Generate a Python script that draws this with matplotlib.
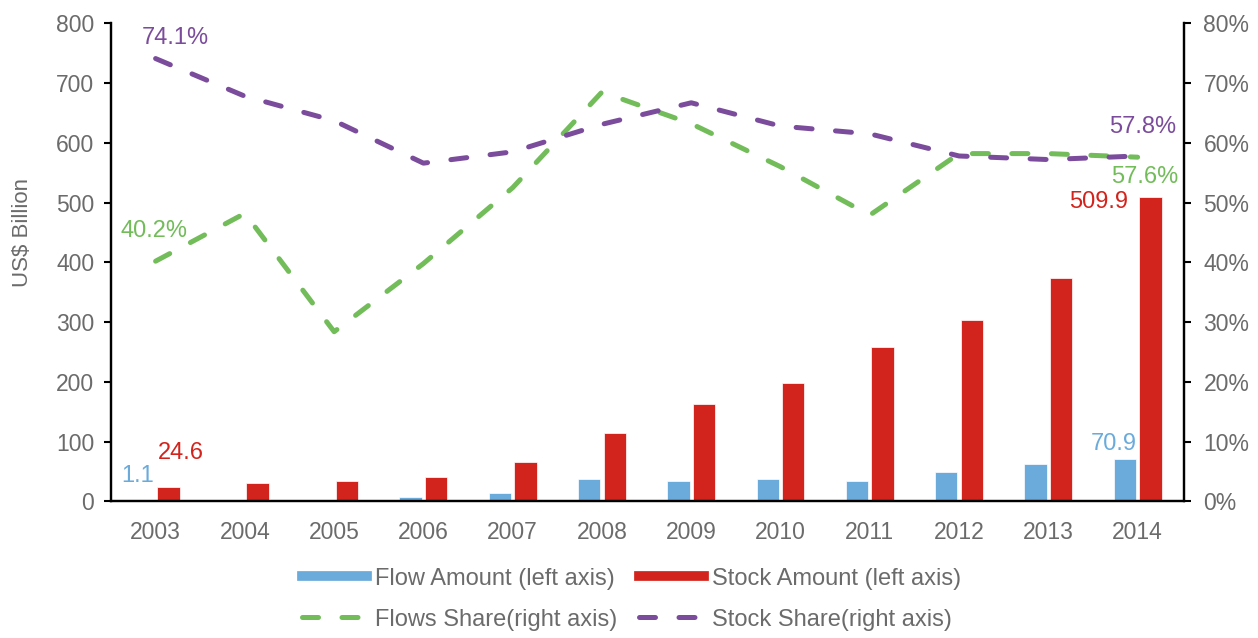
import numpy as np
import matplotlib.pyplot as plt
from matplotlib.lines import Line2D

plt.rcParams['font.family'] = ['Liberation Sans', 'DejaVu Sans']

# data
years = ['2003', '2004', '2005', '2006', '2007', '2008',
         '2009', '2010', '2011', '2012', '2013', '2014']
flow_amount = [1.1, 0.1, 0.1, 7, 13.7, 37, 34.8, 37, 34.8, 50, 62.8, 70.9]
stock_amount = [24.6, 30.5, 34.3, 41, 66.6, 114, 163, 198, 259, 304, 374.5, 509.9]
flows_share = [40.2, 48.2, 28.4, 39.8, 52.5, 68.5, 63.2, 56.0, 47.9, 58.2, 58.2, 57.6]
stock_share = [74.1, 67.8, 63.7, 56.6, 58.5, 63.1, 66.7, 62.8, 61.5, 57.8, 57.2, 57.8]

c_flow = '#6AABDC'
c_stock = '#D2241C'
c_fshare = '#72BC5A'
c_sshare = '#7B4C9C'
c_text = '#6B6B6B'

fig = plt.figure(figsize=(12.58, 6.38), dpi=100)
ax = fig.add_axes([0.0882, 0.214, 0.853, 0.7495])
ax2 = ax.twinx()

x = np.arange(len(years))
w = 0.25
off = 0.143
ax.bar(x - off, flow_amount, w, color=c_flow, edgecolor='white', linewidth=0.5, zorder=2)
ax.bar(x + off, stock_amount, w, color=c_stock, edgecolor='white', linewidth=0.5, zorder=2)

lw = 3.6
dash = (3.2, 4.7)
ax2.plot(x, flows_share, color=c_fshare, lw=lw, dashes=dash, dash_capstyle='round')
ax2.plot(x, stock_share, color=c_sshare, lw=lw, dashes=dash, dash_capstyle='round')

ax.set_xlim(-0.5, 11.52)
ax.set_ylim(0, 800)
ax2.set_ylim(0, 80)
ax.set_yticks(range(0, 801, 100))
ax2.set_yticks(range(0, 81, 10))
ax2.set_yticklabels([f'{v}%' for v in range(0, 81, 10)])
ax.set_xticks(x)
ax.set_xticklabels(years)

for a in (ax, ax2):
    a.spines['top'].set_visible(False)
    for s in ('left', 'right', 'bottom'):
        a.spines[s].set_linewidth(1.6)
        a.spines[s].set_color('black')
    a.tick_params(axis='x', length=0, labelsize=16.5, labelcolor=c_text, pad=14)
ax.tick_params(axis='y', length=5, width=1.5, labelsize=16.5, labelcolor=c_text, pad=7)
ax2.tick_params(axis='y', length=5, width=1.5, labelsize=16.5, labelcolor=c_text, pad=9)

fig.text(0.0175, 0.636, 'US$ Billion', rotation=90, ha='center', va='center',
         fontsize=16, color=c_text)

fs = 17
def lab(a, xi, yi, s, c, dx, dy):
    a.annotate(s, (xi, yi), xytext=(dx, dy), textcoords='offset points',
               ha='center', va='center', fontsize=fs, color=c)

lab(ax2, 0, stock_share[0], f'{stock_share[0]}%', c_sshare, 14, 15)
lab(ax2, 0, flows_share[0], f'{flows_share[0]}%', c_fshare, -1, 22)
lab(ax2, 11, stock_share[-1], f'{stock_share[-1]}%', c_sshare, 4, 21)
lab(ax2, 11, flows_share[-1], f'{flows_share[-1]}%', c_fshare, 5, -14)
lab(ax, 11 + off, stock_amount[-1], f'{stock_amount[-1]}', c_stock, -37, -4)
lab(ax, 11 - off, flow_amount[-1], f'{flow_amount[-1]}', c_flow, -8, 11)
lab(ax, 0 - off, flow_amount[0], f'{flow_amount[0]}', c_flow, -4, 18)
lab(ax, 0 + off, stock_amount[0], f'{stock_amount[0]}', c_stock, 9, 24)

handles = [
    Line2D([], [], color=c_flow, lw=7),
    Line2D([], [], color=c_fshare, lw=lw, dashes=dash, dash_capstyle='round'),
    Line2D([], [], color=c_stock, lw=7),
    Line2D([], [], color=c_sshare, lw=lw, dashes=dash, dash_capstyle='round'),
]
labels = ['Flow Amount (left axis)', 'Flows Share(right axis)',
          'Stock Amount (left axis)', 'Stock Share(right axis)']
leg = fig.legend(handles, labels, ncol=2, loc='center', bbox_to_anchor=(0.502, 0.061),
                 frameon=False, fontsize=17, handlelength=2.75, handletextpad=0.35,
                 columnspacing=0.9, labelspacing=0.8, borderpad=0)
for t in leg.get_texts():
    t.set_color(c_text)

fig.savefig('out.png', dpi=100)
